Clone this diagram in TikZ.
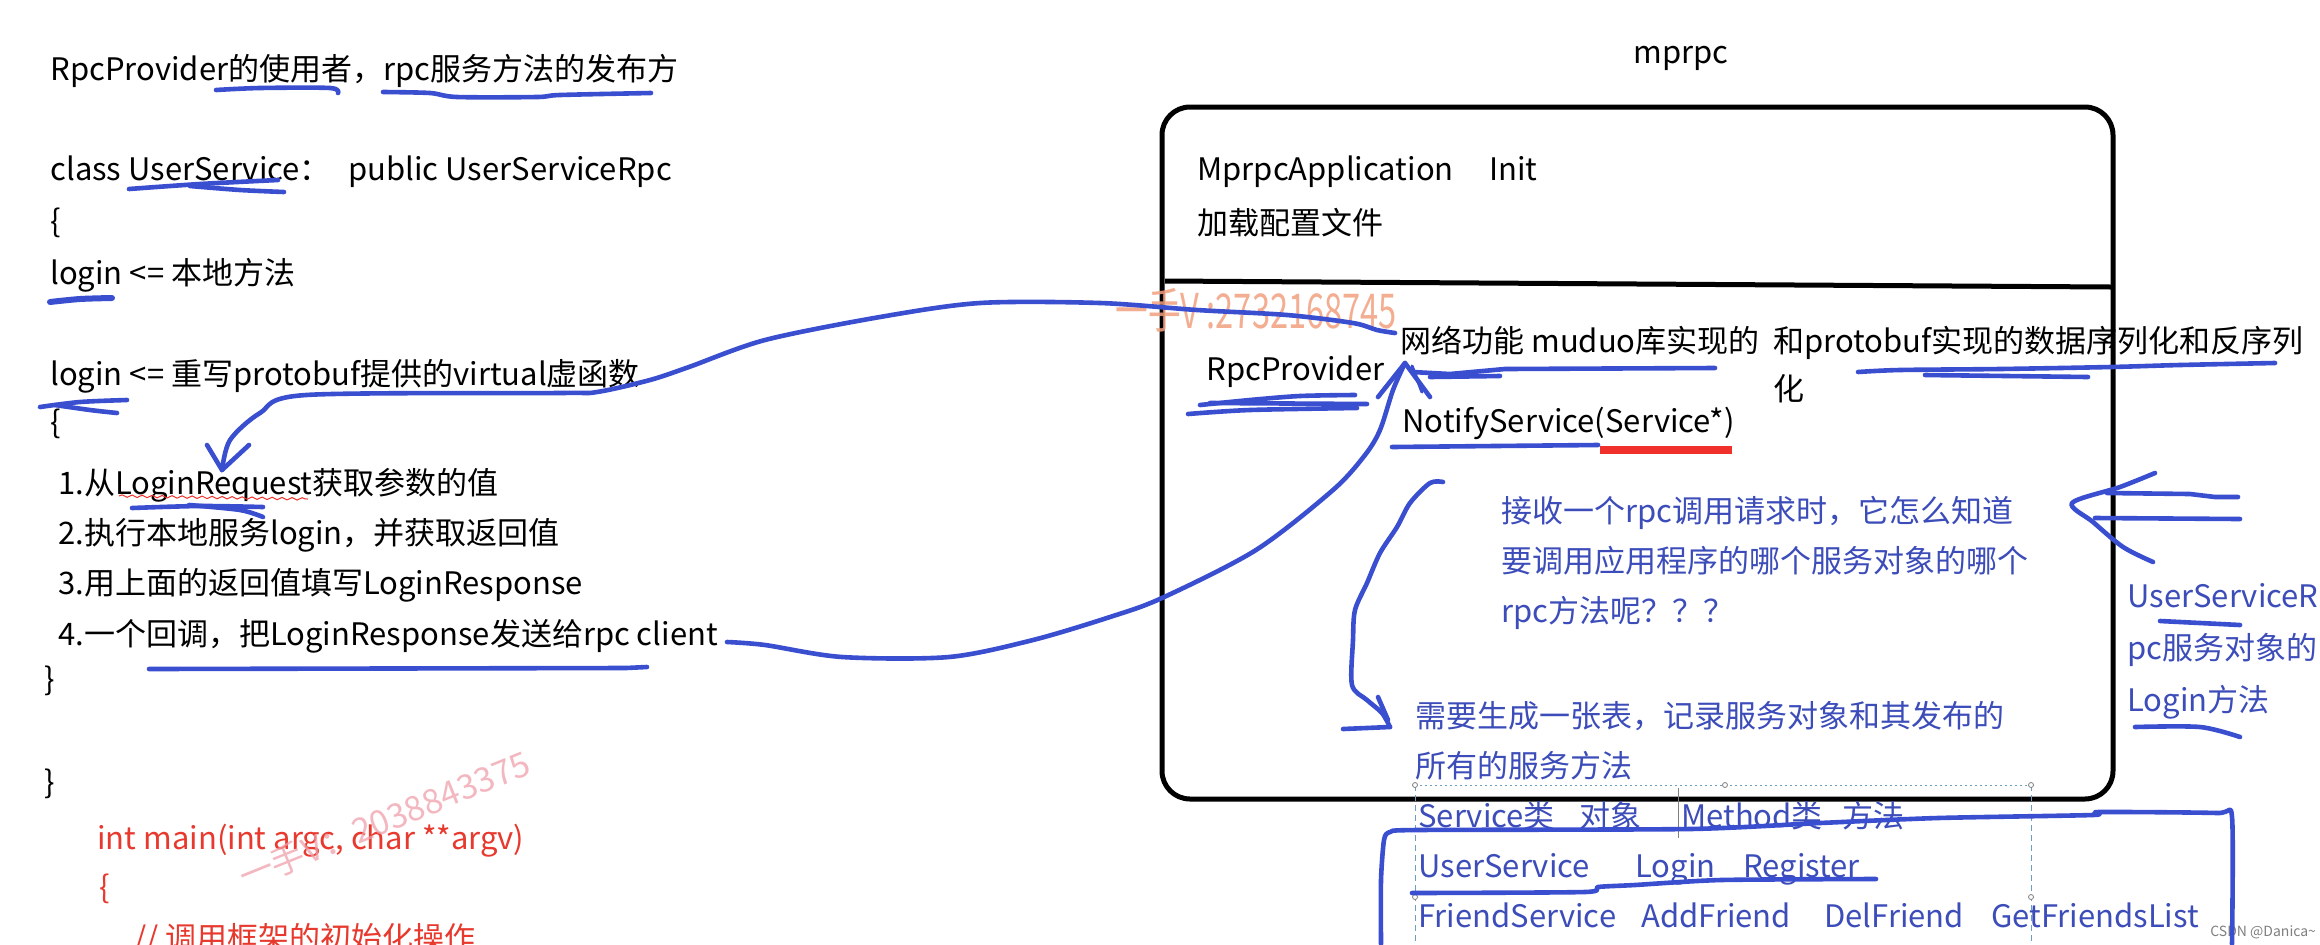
\documentclass[tikz,border=0pt]{standalone}
\usepackage{fontspec}
\setmainfont{Noto Sans CJK SC}
\usetikzlibrary{decorations.pathmorphing}
\definecolor{strokeblue}{HTML}{3A4ED0}
\definecolor{textblue}{HTML}{3C4DBA}
\definecolor{codered}{HTML}{E8392E}
\definecolor{markred}{HTML}{F0302A}
\definecolor{wmorange}{HTML}{F2A080}
\definecolor{wmpink}{HTML}{F0A0AC}
\definecolor{selblue}{HTML}{6A9FC0}
\newcommand\myfs{\fontsize{15.5pt}{18pt}\selectfont}
\tikzset{
  txt/.style={anchor=base west, inner sep=0pt, font=\myfs, text=black},
  bluetxt/.style={txt, text=textblue},
  redtxt/.style={txt, text=codered},
  ink/.style={draw=strokeblue, line width=2.3pt, line cap=round, line join=round},
  thinink/.style={draw=strokeblue, line width=1.6pt, line cap=round, line join=round},
  selline/.style={draw=selblue, line width=0.5pt},
  selknob/.style={draw=gray, fill=white, line width=0.4pt},
}
\begin{document}
\begin{tikzpicture}[x=0.5pt,y=-0.5pt]
\useasboundingbox (0,0) rectangle (2320,944);
\clip (0,0) rectangle (2320,944);
\fill[white] (0,0) rectangle (2320,944);

% ---------- left code text ----------
\node[txt] (t1) at (50,80) {RpcProvider的使用者，rpc服务方法的发布方};
\node[txt] (t2) at (50,180) {class UserService：};
\node[txt] (t2b) at (348,180) {public UserServiceRpc};
\node[txt] (t3) at (50,232) {\{};
\node[txt] (t4) at (50,284) {login <= 本地方法};
\node[txt] (t5) at (50,385) {login <= 重写protobuf提供的virtual虚函数};
\node[txt] (t6) at (50,433) {\{};
\node[txt] (t7) at (58,494) {1.从LoginRequest获取参数的值};
\node[txt] (t8) at (58,544) {2.执行本地服务login，并获取返回值};
\node[txt] (t9) at (58,594) {3.用上面的返回值填写LoginResponse};
\node[txt] (t10) at (58,645) {4.一个回调，把LoginResponse发送给rpc client};
\node[txt] (t11) at (44,690) {\}};
\node[txt] (t12) at (44,793) {\}};
\node[redtxt] (m1) at (97,849) {int main(int argc, char **argv)};
\node[redtxt] (m2) at (99,898) {\{};
\node[redtxt] (m3) at (134,949) {// 调用框架的初始化操作};

% watermark (left)
\node[anchor=base west, inner sep=0pt, rotate=22, text=wmpink, opacity=0.75, font=\fontsize{17pt}{20pt}\selectfont] (wm2) at (245,890) {一手V：2038843375};

% ---------- right box ----------
\node[txt] (mp) at (1633,63) {mprpc};
\draw[line width=2.5pt, rounded corners=14pt] (1162,107) rectangle (2113,799);
\coordinate (divL) at (1165,281);
\coordinate (divR) at (2111,287);
\draw[line width=2.5pt] (divL) -- (divR);

\node[txt] (a1) at (1197,180) {MprpcApplication};
\node[txt] (a1b) at (1489,180) {Init};
\node[txt] (a2) at (1197,234) {加载配置文件};
\node[txt] (rp) at (1206,380) {RpcProvider};
\node[txt] (nw) at (1400,352) {网络功能 muduo库实现的};
\node[txt] (nw2) at (1773,352) {和protobuf实现的数据序列化和反序列};
\node[txt] (hua) at (1773,400) {化};
\node[txt] (ns) at (1402,432) {NotifyService(Service*)};

\node[bluetxt] (b1) at (1501,522) {接收一个rpc调用请求时，它怎么知道};
\node[bluetxt] (b2) at (1501,572) {要调用应用程序的哪个服务对象的哪个};
\node[bluetxt] (b3) at (1501,622) {rpc方法呢？？？};
\node[bluetxt] (b4) at (1415,727) {需要生成一张表，记录服务对象和其发布的};
\node[bluetxt] (b5) at (1415,777) {所有的服务方法};

\node[bluetxt] (r1a) at (1418,827) {Service类};
\node[bluetxt] (r1b) at (1579,827) {对象};
\node[bluetxt] (r1c) at (1681,827) {Method类};
\node[bluetxt] (r1d) at (1842,827) {方法};
\node[bluetxt] (r2a) at (1418,877) {UserService};
\node[bluetxt] (r2b) at (1635,877) {Login};
\node[bluetxt] (r2c) at (1743,877) {Register};
\node[bluetxt] (r3a) at (1418,927) {FriendService};
\node[bluetxt] (r3b) at (1641,927) {AddFriend};
\node[bluetxt] (r3c) at (1824,927) {DelFriend};
\node[bluetxt] (r3d) at (1991,927) {GetFriendsList};

\node[bluetxt] (s1) at (2127,607) {UserServiceR};
\node[bluetxt] (s2) at (2127,659) {pc服务对象的};
\node[bluetxt] (s3) at (2127,711) {Login方法};

\node[anchor=base west, inner sep=0pt, text=gray, font=\fontsize{7pt}{8pt}\selectfont] (csdn) at (2210,936) {CSDN @Danica\textasciitilde};

% watermark (orange)
\node[anchor=west, inner sep=0pt, text=wmorange, opacity=0.85, font=\fontsize{24pt}{26pt}\selectfont] (wm1) at (1115,310) {\scalebox{0.68}[1]{一手V :2732168745}};

% ---------- selection box ----------
\coordinate (selA) at (1415,785);
\coordinate (selM) at (1725,785);
\coordinate (selB) at (2031,785);
\coordinate (selC) at (1415,897);
\coordinate (selD) at (2031,897);
\draw[selline, dash pattern=on 1pt off 1.5pt] (selA) -- (selB);
\draw[selline, dash pattern=on 3pt off 2pt] (selA) -- (1415,944);
\draw[selline, dash pattern=on 3pt off 2pt] (selB) -- (2031,944);
\draw[gray, line width=0.5pt] (1678,788) -- (1678,838);
\foreach \k in {selA,selM,selB,selC,selD} \draw[selknob] (\k) circle (2.5);

% ---------- hand-drawn strokes ----------
% underlines left
\draw[ink] plot[smooth] coordinates {(216,90) (260,88) (330,88) (338,93)};
\draw[ink] plot[smooth] coordinates {(383,92) (430,93) (457,97) (537,97) (560,95) (651,93)};
\draw[ink] plot[smooth] coordinates {(129,189) (200,184) (278,180)};
\draw[ink] plot[smooth] coordinates {(190,186) (240,190) (284,192)};
\draw[ink, line width=3pt] plot[smooth] coordinates {(50,302) (80,299) (112,298)};
\draw[ink] plot[smooth] coordinates {(40,407) (80,402) (127,400)};
\draw[ink] plot[smooth] coordinates {(55,405) (90,410) (117,413)};
\draw[ink] plot[smooth] coordinates {(132,508) (200,506) (263,507)};
\draw[ink] plot[smooth] coordinates {(189,505) (240,510) (263,517)};
\draw[ink] (149,669) -- (626,668) -- (647,667);
\draw[markred, line width=0.5pt, decorate, decoration={snake, amplitude=0.6pt, segment length=5pt}] (119,496) -- (308,499);

% stroke A: from network text back to LoginRequest
\coordinate (aS) at (1395,333);
\coordinate (aE) at (222,470);
\draw[ink] plot[smooth, tension=0.5] coordinates {(aS) (1377,330) (1353,323) (1287,315) (1197,310) (1100,303) (980,303) (880,317) (765,340) (689,367) (650,380) (597,392) (559,393) (306,395) (260,413) (230,440) (aE)};
\draw[ink] (207,445) -- (aE) -- (249,445);

% stroke B: from rpc client to RpcProvider
\coordinate (bS) at (727,642);
\coordinate (bE) at (1405,363);
\draw[ink] plot[smooth, tension=0.5] coordinates {(bS) (765,645) (842,657) (949,657) (1033,640) (1110,617) (1162,598) (1256,550) (1333,490) (1365,455) (1380,430) (1393,390) (bE)};
\draw[ink] (1378,397) -- (bE) -- (1430,397);
\draw[thinink] (1412,366) -- (1422,392);

% underlines near provider
\draw[ink] (1412,372) -- (1450,374) -- (1505,369) -- (1715,368);
\draw[ink] (1430,377) -- (1500,376);
\draw[ink] plot[smooth] coordinates {(1858,372) (1900,370) (2000,369) (2111,367) (2180,365) (2275,363)};
\draw[ink] (1925,375) -- (2088,377);
\draw[ink] plot[smooth] coordinates {(1200,405) (1250,400) (1300,396) (1355,395)};
\draw[ink] plot[smooth] coordinates {(1188,414) (1250,410) (1357,408)};
\draw[ink] (1210,403) -- (1367,404);
\draw[ink] (1392,447) -- (1598,445);
\draw[markred, line width=3.6pt] (1600,450) -- (1732,450);

% stroke C: curved arrow down to table text
\coordinate (cS) at (1443,482);
\coordinate (cE) at (1390,727);
\draw[ink] plot[smooth, tension=0.5] coordinates {(cS) (1430,483) (1410,503) (1397,527) (1380,553) (1367,583) (1355,610) (1353,640) (1352,685) (1367,700) (1382,713) (cE)};
\draw[ink] (1343,729) -- (cE);
\draw[ink] (1378,697) -- (1388,720);

% stroke D: arrow from the right towards the box
\coordinate (dT) at (2072,503);
\draw[ink] (2107,493) -- (2190,494) -- (2215,497) -- (2238,497);
\draw[ink] (2095,518) -- (2240,519);
\draw[ink] plot[smooth, tension=0.5] coordinates {(2155,473) (2120,487) (dT) (2093,522) (2123,547) (2153,562)};
\draw[ink] (2160,621) -- (2240,625);
\draw[ink] plot[smooth] coordinates {(2135,727) (2200,727) (2240,737)};

% stroke E: bracket around table
\draw[ink] plot[smooth, tension=0.4] coordinates {(1381,944) (1381,880) (1384,840) (1390,832) (1418,830) (1690,829) (1820,823) (1938,818) (2093,815) (2099,812) (2217,813) (2232,817) (2232,944)};
\draw[ink] plot[smooth, tension=0.4] coordinates {(1412,893) (1585,892) (1598,887) (1635,885) (1721,880) (1876,879)};
\end{tikzpicture}
\end{document}
